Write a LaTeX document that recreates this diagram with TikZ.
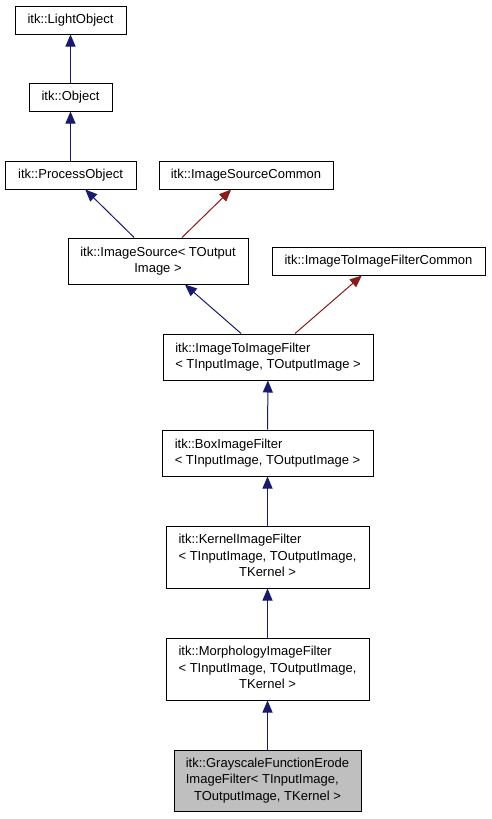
\documentclass[tikz,border=0pt]{standalone}
\usepackage{fontspec}
\setmainfont{Liberation Sans}
\usepackage{tikz}
\usetikzlibrary{arrows.meta}
\definecolor{edgeblue}{HTML}{191970}
\definecolor{edgered}{HTML}{8B1A1A}
\definecolor{boxgray}{HTML}{BFBFBF}
\newcommand{\leftlines}[1]{\begin{tabular}{@{}l@{}}#1\end{tabular}}
\newcommand{\midlines}[1]{\begin{tabular}{@{}c@{}}#1\end{tabular}}
\newcommand{\midrow}[1]{\multicolumn{1}{@{}c@{}}{#1}}
\tikzset{
  cls/.style={draw=black, line width=1pt, fill=white, inner sep=0pt,
    font=\fontsize{13}{16.5}\selectfont},
  pub/.style={draw=edgeblue, line width=1pt, -{Triangle[length=12pt,width=10pt]}},
  tmpl/.style={draw=edgered, line width=1pt, -{Triangle[length=12pt,width=10pt]}}
}
\begin{document}
\begin{tikzpicture}[x=1pt, y=-1pt]
			\useasboundingbox (0,0) rectangle (491,819);
			% base classes
			\node[cls, minimum width=111, minimum height=28] (light) at (70.5,20) {itk::LightObject};
			\node[cls, minimum width=83, minimum height=28] (obj) at (70.5,97) {itk::Object};
			\node[cls, minimum width=131, minimum height=28] (proc) at (70.5,175) {itk::ProcessObject};
			\node[cls, minimum width=174, minimum height=28] (isc) at (246,175) {itk::ImageSourceCommon};
			\node[cls, minimum width=180, minimum height=46] (isrc) at (158,261)
				{\midlines{itk::ImageSource< TOutput\\ Image >}};
			\node[cls, minimum width=213, minimum height=28] (itifc) at (378.5,261) {itk::ImageToImageFilterCommon};
			%
			\node[cls, minimum width=210, minimum height=46] (itif) at (268,357)
				{\leftlines{itk::ImageToImageFilter\\ < TInputImage, TOutputImage >}};
			\node[cls, minimum width=211, minimum height=46] (box) at (267.5,453)
				{\leftlines{itk::BoxImageFilter\\ < TInputImage, TOutputImage >}};
			\node[cls, minimum width=203, minimum height=62] (kern) at (267.5,557)
				{\leftlines{itk::KernelImageFilter\\ < TInputImage, TOutputImage,\\ \midrow{TKernel >}}};
			\node[cls, minimum width=203, minimum height=62] (morph) at (267.5,669)
				{\leftlines{itk::MorphologyImageFilter\\ < TInputImage, TOutputImage,\\ \midrow{TKernel >}}};
			\node[cls, fill=boxgray, minimum width=187, minimum height=61] (gray) at (267.5,780.5)
				{\leftlines{itk::GrayscaleFunctionErode\\ ImageFilter< TInputImage,\\ \midrow{TOutputImage, TKernel >}}};
			% inheritance
			\draw[pub] (obj) -- (light);
			\draw[pub] (proc) -- (obj);
			\draw[pub] (isrc) -- (proc);
			\draw[tmpl] (isrc) -- (isc);
			\draw[pub] (itif) -- (isrc);
			\draw[tmpl] (itif) -- (itifc);
			\draw[pub] (box) -- (itif);
			\draw[pub] (kern) -- (box);
			\draw[pub] (morph) -- (kern);
			\draw[pub] (gray) -- (morph);
		\end{tikzpicture}
\end{document}
